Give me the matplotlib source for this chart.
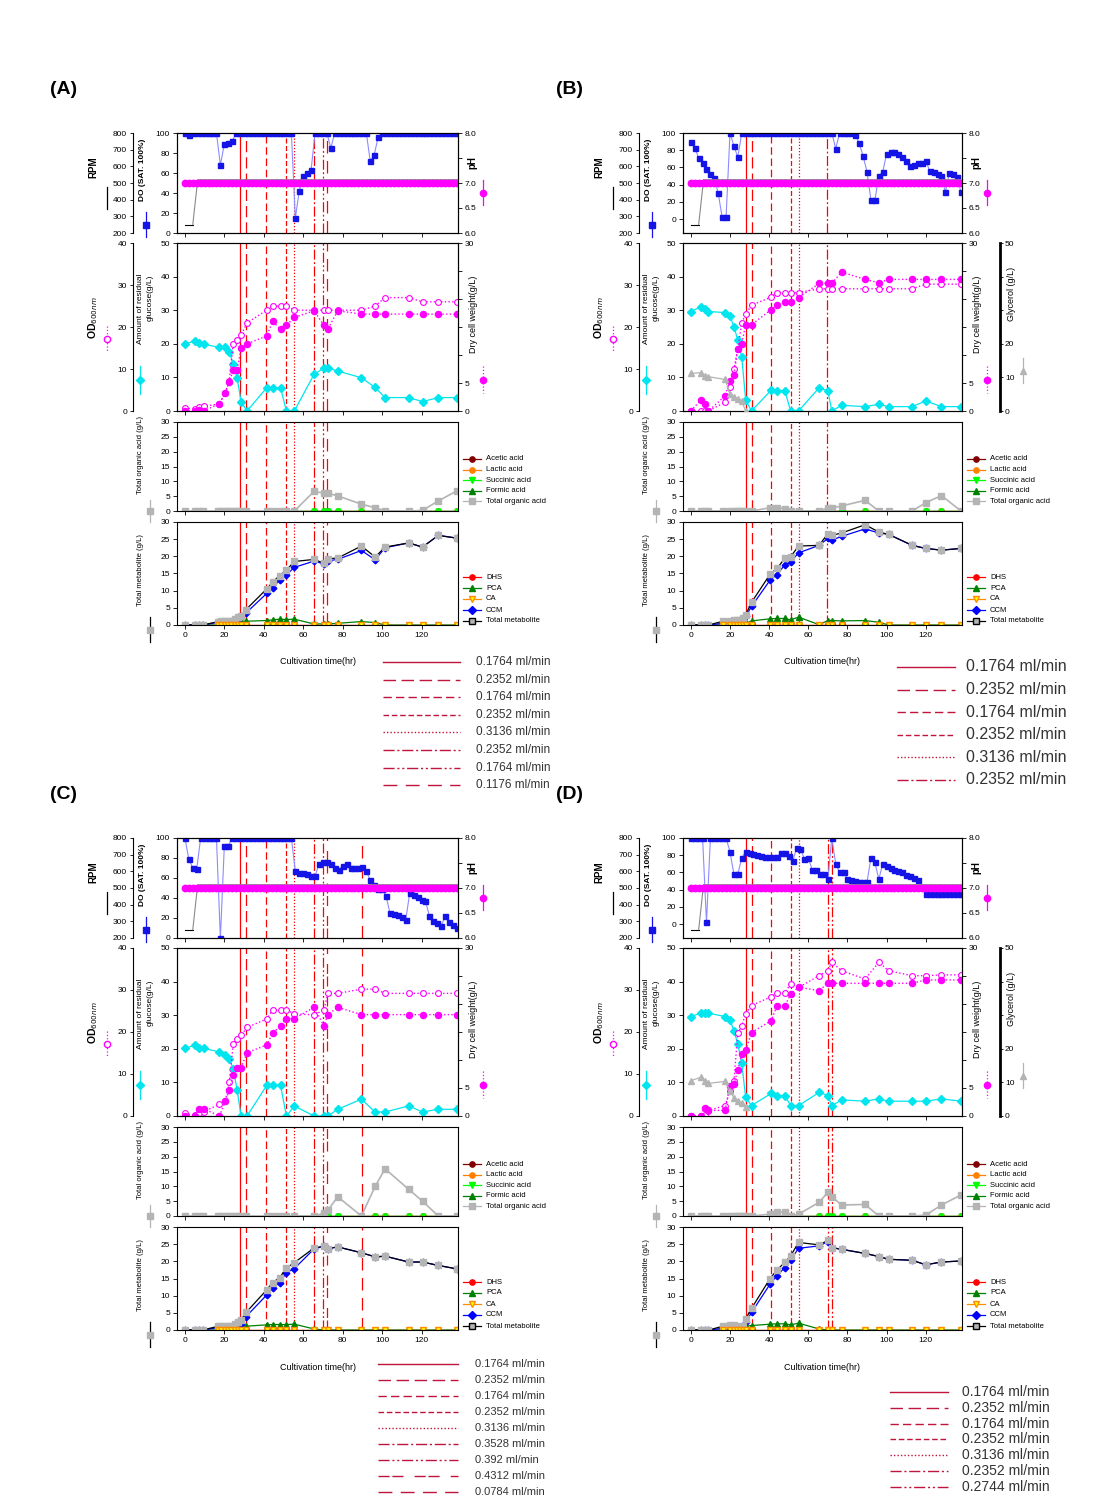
import matplotlib
matplotlib.use("Agg")
import matplotlib.pyplot as plt
from matplotlib.lines import Line2D
from matplotlib.patches import Rectangle

plt.rcParams["font.family"] = ["Liberation Sans", "DejaVu Sans"]
plt.rcParams["axes.linewidth"] = 0.8

W, H = 1099, 1496

# ---------------------------------------------------------------- data
# on-line logger (DO, pH), read every 2 hr
do_t = list(range(0, 140, 2))

a_do = [100, 98, 100, 100, 100, 100, 100, 100, 100, 68,
        89, 90, 92, 100, 100, 100, 100, 100, 100, 100,
        100, 100, 100, 100, 100, 100, 100, 100, 15, 42,
        57, 60, 63, 100, 100, 100, 100, 85, 100, 100,
        100, 100, 100, 100, 100, 100, 100, 72, 78, 96,
        100, 100, 100, 100, 100, 100, 100, 100, 100, 100,
        100, 100, 100, 100, 100, 100, 100, 100, 100, 100]
b_do = [90, 83, 71, 65, 58, 53, 48, 30, 2, 2,
        100, 85, 72, 100, 100, 100, 100, 100, 100, 100,
        100, 100, 100, 100, 100, 100, 100, 100, 100, 100,
        100, 100, 100, 100, 100, 100, 100, 82, 100, 100,
        100, 100, 98, 88, 73, 55, 22, 22, 50, 55,
        76, 78, 78, 76, 72, 67, 62, 63, 65, 65,
        68, 56, 55, 52, 50, 31, 54, 52, 49, 31]
c_do = [100, 79, 70, 69, 100, 100, 100, 100, 100, 0,
        92, 92, 100, 100, 100, 100, 100, 100, 100, 100,
        100, 100, 100, 100, 100, 100, 100, 100, 67, 65,
        65, 64, 62, 62, 74, 76, 76, 74, 70, 68,
        72, 74, 70, 70, 70, 71, 67, 58, 53, 49,
        49, 42, 25, 24, 23, 21, 18, 45, 43, 41,
        38, 37, 22, 17, 15, 12, 22, 16, 13, 10]
d_do = [100, 100, 100, 100, 2, 100, 100, 100, 100, 100,
        84, 58, 58, 77, 84, 83, 81, 80, 79, 78,
        78, 78, 78, 83, 83, 79, 73, 88, 87, 76,
        77, 63, 63, 58, 58, 52, 100, 70, 60, 60,
        53, 51, 50, 49, 49, 49, 77, 72, 52, 70,
        67, 65, 63, 62, 60, 57, 56, 54, 51, 43,
        35, 35, 35, 35, 35, 35, 35, 35, 35, 35]
ph_vals = [7.0] * len(do_t)           # pH was held at 7.0 throughout
rpm_t = [0, 4, 6.5, 138]
rpm_v = [250, 250, 520, 520]

# off-line growth samples
ac_t = [0, 5, 7, 9.5, 17.5, 20.5, 22.5, 24.5, 26.5, 28.5, 31.5, 41.5, 44.5, 48.5,
        51.5, 55.5, 65.5, 70.5, 72.5, 77.5, 89.5, 96.5, 101.5, 113.5, 120.5, 128.5, 138]
bd_t = [0, 5, 7, 9, 17.5, 20, 22, 24, 26, 28, 31, 41, 44, 48,
        51, 55, 65.5, 70, 72, 77, 89, 96, 101, 113, 120, 128, 138]

a_od = [0.6, 0.5, 1.0, 1.1, 1.7, 4.4, 7.2, 16, 17, 18, 21, 24, 25, 25,
        25, 24, 24, 24, 24, 24, 24, 25, 27, 27, 26, 26, 26]
a_dcw = [0, 0, 0.1, 0, 1.3, 3.3, 5.2, 7.3, 7.3, 11.2, 12, 13.4, 16, 14.6,
         15.3, 16.7, 17.9, 15.3, 14.6, 17.9, 17.3, 17.3, 17.3, 17.3, 17.3, 17.3, 17.3]
a_glc = [19.9, 20.9, 20.1, 19.9, 18.9, 18.9, 17.7, 13.9, 9.7, 2.8, 0, 6.9, 6.9, 6.9,
         0, 0, 10.9, 12.8, 12.8, 11.9, 9.9, 7, 4, 4, 2.8, 4, 4]

b_od = [0, 0, 0, 0, 2.1, 5.6, 10, 14.7, 21, 23, 25.2, 27.1, 28.2, 28.2,
        28.2, 28.2, 29.1, 29.1, 29.1, 29.1, 29.1, 29.1, 29.1, 29.1, 30.2, 30.2, 30.2]
b_dcw = [0, 1.9, 1.3, 0, 2.7, 5.4, 6.5, 11.1, 12, 15.4, 15.4, 18.1, 18.9, 19.5,
         19.5, 20.2, 22.8, 22.8, 22.8, 24.8, 23.5, 22.9, 23.5, 23.5, 23.5, 23.5, 23.5]
b_glc = [29.6, 31, 30.3, 29.6, 29.3, 28.3, 25.1, 21.1, 16.1, 3.3, 0, 6.2, 6, 6,
         0, 0, 6.9, 6, 0, 1.7, 1.3, 2, 1.3, 1.3, 3, 1.3, 1.3]
b_gly = [11.2, 11.4, 10.4, 10.2, 9.4, 5, 4.3, 3.7, 3, 0]

c_od = [0.6, 0.2, 0.6, 1.0, 2.8, 3.5, 8, 17.1, 18.3, 19.2, 21.1, 23.1, 25.2, 25.3,
        25.3, 24.3, 24.1, 25.2, 29.2, 29.2, 30.2, 30.2, 29.2, 29.2, 29.2, 29.2, 29.2]
c_dcw = [0, 0, 1.3, 1.3, 0, 2.6, 4.6, 7.3, 8.6, 8.6, 11.3, 12.7, 14.8, 16.1,
         17.4, 17.4, 19.4, 16.1, 18.1, 19.4, 18.1, 18.1, 18.1, 18.1, 18.1, 18.1, 18.1]
c_glc = [20.1, 21.1, 20.1, 20.1, 19.1, 18.1, 17.1, 14.1, 7.7, 0, 0, 9.1, 9.1, 9.1,
         0, 3, 0, 0, 0, 2, 5, 1.2, 1.2, 3, 1.2, 2, 2]

d_od = [0, 0, 0.3, 1.3, 2.5, 6, 8.4, 19.7, 21.4, 24.4, 26.3, 28.4, 29.4, 29.4,
        31.4, 30.6, 33.4, 34.6, 36.6, 34.6, 32.6, 36.6, 34.6, 33.4, 33.4, 33.6, 33.6]
d_dcw = [0, 0, 1.5, 1, 1, 5.4, 5.7, 8.2, 11.1, 11.7, 14.9, 17, 19.7, 19.7,
         21.7, 23, 22.4, 23.7, 23.7, 23.7, 23.7, 23.7, 23.7, 23.7, 24.3, 24.3, 24.3]
d_glc = [29.6, 30.6, 30.6, 30.6, 29.6, 28.6, 25.4, 21.4, 15.7, 5.6, 3.1, 6.7, 6.1, 6.1,
         3.1, 3.1, 7, 6.1, 3.1, 4.8, 4.4, 5.1, 4.4, 4.4, 4.4, 5.1, 4.4]
d_gly = [10.5, 11.5, 10.5, 9.7, 10.3, 7.5, 5.4, 4.6, 3.8, 2.8]

# HPLC samples (organic acids, metabolites)
ac_mt = [0, 5, 7, 9, 17, 18.5, 20.5, 22, 23.5, 25.5, 27, 28.5, 31, 41.5, 44.5,
         48, 51.5, 55.5, 65.5, 70.5, 72.5, 77.5, 89.5, 96.5, 101.5, 113.5, 120.5, 128.5, 138]
bd_mt = [0, 5, 7, 9, 16.5, 20, 22, 23.5, 25, 26.5, 28, 31, 40.5, 44,
         48, 51, 55, 65.5, 70, 72, 77, 89, 96, 101, 113, 120, 128, 138]

a_toa = [0, 0, 0, 0, 0, 0, 0, 0, 0, 0, 0, 0, 0, 0, 0, 0, 0, 0,
         6.6, 6.0, 6.0, 5.1, 2.3, 1.1, 0, 0, 0.2, 3.4, 6.8]
a_tm = [0, 0, 0, 0, 1.0, 1.1, 1.1, 1.1, 1.3, 1.8, 2.4, 2.6, 4.5, 10.5, 12.5,
        14.4, 16, 18.5, 19.1, 18, 19.3, 19.5, 23, 19.8, 22.7, 23.9, 22.7, 26.1, 25.3]
a_ccm = [0, 0, 0, 0, 0.8, 0.8, 0.8, 0.8, 1.0, 1.3, 1.8, 2.5, 3.5, 9.2, 10.8,
         13.1, 14.6, 16.8, 18.6, 17.8, 18.7, 19.1, 21.7, 19.0, 22.5, 23.9, 22.7, 26.1, 25.3]
a_pca = [0, 0, 0, 0, 0, 0, 0, 0.3, 0.5, 0.8, 1.0, 1.1, 1.1, 1.3, 1.5,
         1.7, 1.6, 1.7, 0.3, 0.3, 0.3, 0.5, 1.0, 0.7, 0, 0, 0, 0, 0]

b_toa = [0, 0, 0, 0, 0, 0, 0, 0, 0, 0, 0, 0, 1.1, 1.1,
         0.8, 0, 0, 0, 1, 1, 1.7, 3.6, 0, 0, 0, 2.8, 5.2, 0]
b_tm = [0, 0, 0, 0, 1.1, 1.3, 1.4, 1.4, 1.5, 2.0, 3.0, 6.6, 14.8, 16.5,
        19.4, 19.9, 23, 23.2, 26.6, 26.1, 26.8, 29.2, 27.1, 26.4, 23.2, 22.3, 21.8, 22.3]
b_ccm = [0, 0, 0, 0, 0.5, 0.6, 0.7, 0.8, 1.0, 1.5, 2.5, 5.4, 13.1, 14.7,
         17.5, 18.4, 21, 23.2, 25.2, 24.7, 25.8, 28, 26.8, 26.4, 23.2, 22.3, 21.8, 22.3]
b_pca = [0, 0, 0, 0, 0, 0, 0, 0, 0, 0, 0.5, 1.2, 1.8, 1.9,
         1.9, 1.5, 2.3, 0.1, 1.3, 1.3, 1.2, 1.3, 0.8, 0, 0, 0, 0, 0]

c_toa = [0, 0, 0, 0, 0, 0, 0, 0, 0, 0, 0, 0, 0, 0, 0, 0, 0, 0, 0,
         0.9, 1.9, 6.5, 0, 10, 15.9, 9, 5, 0, 0]
c_tm = [0, 0, 0, 0, 1.1, 1.3, 1.3, 1.3, 1.3, 1.7, 2.4, 3.0, 5.1, 11.7, 13.8,
        15.2, 18.1, 19.6, 23.9, 24.4, 23.7, 24.2, 22.5, 21.3, 21.5, 19.8, 19.8, 18.8, 17.8]
c_ccm = [0, 0, 0, 0, 0.7, 0.8, 0.8, 0.8, 0.9, 1.3, 1.5, 1.7, 3.9, 10.2, 12.2,
         13.8, 16.7, 17.9, 23.6, 24.4, 23.7, 24.2, 22.5, 21.3, 21.5, 19.8, 19.8, 18.8, 17.8]
c_pca = [0, 0, 0, 0, 0, 0, 0, 0.3, 0.5, 0.8, 1.0, 1.1, 1.1, 1.5, 1.6,
         1.6, 1.6, 1.7, 0.3, 0, 0, 0, 0, 0, 0, 0, 0, 0, 0]

d_toa = [0, 0, 0, 0, 0, 0, 0, 0, 0, 0, 0, 0, 0.6, 1.5,
         1.2, 0, 0.6, 4.6, 8, 6.5, 3.7, 3.9, 0, 0, 0, 0.3, 3.7, 7.1]
d_tm = [0, 0, 0, 0, 1.1, 1.5, 1.5, 1.1, 0.5, 1.3, 3.2, 6.3, 15, 17.5,
        19.7, 21.6, 25.5, 24.8, 26.1, 24, 23.5, 22.3, 21.4, 20.6, 20.3, 19, 19.8, 20.1]
d_ccm = [0, 0, 0, 0, 0.5, 0.6, 0.5, 0, 0, 0.4, 2.2, 5.1, 13.4, 15.8,
         18.2, 20.4, 23.8, 24.5, 25.7, 24, 23.5, 22.3, 21.4, 20.6, 20.3, 19, 19.8, 20.1]
d_pca = [0, 0, 0, 0, 0, 0, 0, 0, 0, 0, 1.1, 1.3, 1.7, 1.8,
         1.8, 1.5, 2.0, 0.3, 0, 0, 0, 0, 0, 0, 0, 0, 0, 0]

# feed-rate changes (hr) and the feed rate that starts there (ml/min)
a_feed_t = [28.1, 31.1, 41.3, 51.4, 55.3, 65.3, 70.2, 72.3]
a_feed = ["0.1764", "0.2352", "0.1764", "0.2352", "0.3136", "0.2352", "0.1764", "0.1176"]
b_feed_t = [28.1, 31.1, 40.8, 51.0, 55.1, 69.7]
b_feed = ["0.1764", "0.2352", "0.1764", "0.2352", "0.3136", "0.2352"]
c_feed_t = [28.1, 31.1, 41.3, 51.4, 55.3, 65.3, 70.2, 72.3, 89.8]
c_feed = ["0.1764", "0.2352", "0.1764", "0.2352", "0.3136", "0.3528", "0.392", "0.4312", "0.0784"]
d_feed_t = [28.1, 31.1, 40.8, 51.0, 55.1, 69.9, 71.9]
d_feed = ["0.1764", "0.2352", "0.1764", "0.2352", "0.3136", "0.2352", "0.2744"]

# ---------------------------------------------------------------- styles
FEED_LS = ["-", (0, (9, 4)), (0, (6, 3)), (0, (4, 2)), (0, (1, 1.5)),
           (0, (8, 2, 1.5, 2)), (0, (8, 2, 1.5, 2, 1.5, 2)), (0, (10, 6)),
           (0, (8, 2, 8, 8))]
BLUE, LBLUE, PINK, CYAN, GREY = "#1414e6", "#8c8cff", "#ff00ff", "#00e5ee", "#b4b4b4"
FS = 6


def fx(px):
    return px / W


def fy(py):
    return 1 - py / H


def new_ax(fig, L, R, t, b):
    ax = fig.add_axes([fx(L), fy(b), (R - L) / W, (b - t) / H])
    ax.set_xlim(-4, 138.5)
    ax.set_xticks(range(0, 140, 20))
    ax.tick_params(labelsize=FS, length=3, width=0.6, pad=2, labelbottom=False)
    return ax


def ftext(fig, x, y, s, **kw):
    kw.setdefault("fontsize", 6.5)
    kw.setdefault("rotation", 90)
    fig.text(fx(x), fy(y), s, ha="center", va="center", **kw)


def key(fig, x, y0, y1, color, ls="-", marker=None, mfc=None, mec=None, ms=4):
    fig.add_artist(Line2D([fx(x), fx(x)], [fy(y0), fy(y1)], color=color, ls=ls, lw=0.9))
    if marker:
        fig.add_artist(Line2D([fx(x)], [fy((y0 + y1) / 2)], marker=marker, ls="none",
                              mfc=mfc, mec=mec, ms=ms))


def side_legend(fig, x, y0, dy, entries):
    for i, (lab, col, mk, mfc) in enumerate(entries):
        y = y0 + i * dy
        fig.add_artist(Line2D([fx(x), fx(x + 18)], [fy(y), fy(y)], color=col, lw=0.9))
        fig.add_artist(Line2D([fx(x + 9)], [fy(y)], marker=mk, ls="none", mfc=mfc,
                              mec=col if mfc != "#ffff00" else "#ff8c00", ms=3.8))
        fig.text(fx(x + 23), fy(y), lab, fontsize=5.5, va="center")


def feed_legend(fig, box, x0, x1, xt, y0, dy, labels, styles, fs):
    fig.add_artist(Rectangle((fx(box[0]), fy(box[3])), (box[2] - box[0]) / W,
                             (box[3] - box[1]) / H, transform=fig.transFigure,
                             facecolor="white", edgecolor="none", zorder=5))
    for i, (lab, st) in enumerate(zip(labels, styles)):
        y = y0 + i * dy
        fig.add_artist(Line2D([fx(x0), fx(x1)], [fy(y), fy(y)], color="#c0143c",
                              lw=1.0, ls=FEED_LS[st], zorder=6))
        fig.text(fx(xt), fy(y), lab + " ml/min", fontsize=fs, va="center",
                 color="#333333", zorder=6)


def draw_panel(fig, L, R, top, p):
    T1, T2, T3, T4 = top, top + 110, top + 289, top + 389
    rows = [(T1, T1 + 100), (T2, T2 + 168), (T3, T3 + 89), (T4, T4 + 103)]
    axes = [new_ax(fig, L, R, t, b) for t, b in rows]
    ax1, ax2, ax3, ax4 = axes
    for ax in axes:
        for t, st in zip(p["feed_t"], p["feed_ls"]):
            ax.axvline(t, color="red", lw=0.9, ls=FEED_LS[st], zorder=1)

    # --- DO / RPM / pH
    ax1.plot(do_t, p["do"], color=LBLUE, lw=0.8, marker="s", ms=3.6,
             mfc=BLUE, mec=BLUE, zorder=3)
    ax1.set_ylim(p["do_lim"], 100)
    ax1.set_yticks(range(0, 101, 20))
    rpm = ax1.twinx()
    rpm.yaxis.tick_left()
    for s in ["top", "right", "bottom"]:
        rpm.spines[s].set_visible(False)
    rpm.spines["left"].set_position(("outward", 32))
    rpm.set_ylim(200, 800)
    rpm.set_yticks(range(200, 801, 100))
    rpm.tick_params(labelsize=FS, length=2, width=0.6, pad=2)
    rpm.plot(rpm_t[:2], rpm_v[:2], color="black", lw=0.8)
    rpm.plot(rpm_t[1:], rpm_v[1:], color="#8a8a8a", lw=0.8)
    ph = ax1.twinx()
    ph.set_ylim(6.0, 8.0)
    ph.set_yticks([6.0, 6.5, 7.0, 7.5, 8.0])
    ph.set_yticklabels(["6.0", "6.5", "7.0", "", "8.0"])
    ph.tick_params(labelsize=FS, length=3, width=0.6, pad=2)
    ph.plot(do_t, ph_vals, ls="none", marker="o", ms=4.6, mfc=PINK, mec=PINK)

    # --- growth
    ax2.plot(p["gt"], p["glc"], color=CYAN, lw=0.9, marker="D", ms=3.6,
             mfc=CYAN, mec=CYAN, zorder=3)
    ax2.set_ylim(0, 50)
    ax2.set_yticks(range(0, 51, 10))
    od = ax2.twinx()
    od.yaxis.tick_left()
    for s in ["top", "right", "bottom"]:
        od.spines[s].set_visible(False)
    od.spines["left"].set_position(("outward", 32))
    od.set_ylim(0, 40)
    od.set_yticks(range(0, 41, 10))
    od.tick_params(labelsize=FS, length=2, width=0.6, pad=2)
    od.plot(p["gt"], p["od"], color=PINK, lw=1.0, ls=":", marker="o", ms=4.2,
            mfc="white", mec=PINK, mew=0.8)
    dcw = ax2.twinx()
    dcw.set_ylim(0, 30)
    dcw.set_yticks(range(0, 31, 5))
    dcw.set_yticklabels(["0", "5", "", "", "", "", "30"])
    dcw.tick_params(labelsize=FS, length=3, width=0.6, pad=2)
    dcw.plot(p["gt"], p["dcw"], color=PINK, lw=1.0, ls=":", marker="o", ms=4.4,
             mfc=PINK, mec=PINK)
    if p["gly"] is not None:
        gly = ax2.twinx()
        for s in ["top", "left", "bottom"]:
            gly.spines[s].set_visible(False)
        gly.spines["right"].set_position(("outward", 27))
        gly.spines["right"].set_linewidth(2)
        gly.set_ylim(0, 50)
        gly.set_yticks(range(0, 51, 10))
        gly.set_yticklabels(["0", "10", "20", "", "", "50"])
        gly.tick_params(labelsize=FS, length=2, width=0.6, pad=2)
        gly.plot(p["gt"][:len(p["gly"])], p["gly"], color=GREY, lw=0.9,
                 marker="^", ms=4, mfc=GREY, mec=GREY)

    # --- organic acids
    mt, k = p["mt"], p["acid_from"]
    zeros = [0.0] * len(mt)
    ax3.plot(mt[k:], zeros[k:], color="#800000", marker="o", ms=3.5, lw=0.9)
    ax3.plot(mt[k:], zeros[k:], color="#ff8000", marker="o", ms=3.5, lw=0.9)
    ax3.plot(mt[k:], zeros[k:], color="#008000", marker="^", ms=3.5, lw=0.9)
    ax3.plot(mt[k:], zeros[k:], color="#00ff00", marker="v", ms=3.5, lw=0.9)
    ax3.plot(mt, p["toa"], color=GREY, lw=1.2, marker="s", ms=4, mfc=GREY, mec=GREY)
    ax3.set_ylim(0, 30)
    ax3.set_yticks(range(0, 31, 5))

    # --- metabolites
    ax4.plot(mt, zeros, color="red", marker="o", ms=3.5, lw=0.9)
    ax4.plot(mt, p["pca"], color="#008000", marker="^", ms=3.8, lw=0.9)
    ax4.plot(mt, p["ccm"], color="blue", marker="D", ms=3.4, lw=0.9)
    ax4.plot(mt, p["tm"], color="black", lw=0.9, marker="s", ms=4.2, mfc=GREY, mec=GREY)
    ax4.plot(mt[4:], zeros[4:], color="#ff8c00", marker="v", ms=3.8, lw=0.9,
             mfc="#ffff00", mec="#ff8c00")
    ax4.set_ylim(0, 30)
    ax4.set_yticks(range(0, 31, 5))
    ax4.tick_params(labelbottom=True)

    # --- axis titles with their symbol keys
    ftext(fig, L - 84, T1 + 34, "RPM", fontsize=7, weight="bold")
    key(fig, L - 70, T1 + 54, T1 + 76, "black")
    ftext(fig, L - 35, T1 + 37, "DO (SAT. 100%)", fontsize=6, weight="bold")
    key(fig, L - 31, T1 + 79, T1 + 104, BLUE, marker="s", mfc=BLUE, mec=BLUE, ms=4)
    ftext(fig, R + 14, T1 + 30, "pH", fontsize=7, weight="bold")
    key(fig, R + 25, T1 + 47, T1 + 72, PINK, marker="o", mfc=PINK, mec=PINK, ms=4.5)

    ftext(fig, L - 84, T2 + 75, r"OD$_{600nm}$", fontsize=7.5, weight="bold")
    key(fig, L - 70, T2 + 83, T2 + 109, PINK, ls=":", marker="o", mfc="white", mec=PINK, ms=4.5)
    ftext(fig, L - 37, T2 + 66, "Amount of residual", fontsize=6)
    ftext(fig, L - 27, T2 + 55, "glucose(g/L)", fontsize=6)
    key(fig, L - 37, T2 + 123, T2 + 151, CYAN, marker="D", mfc=CYAN, mec=CYAN, ms=4)
    ftext(fig, R + 16, T2 + 71, "Dry cell weight(g/L)")
    key(fig, R + 25, T2 + 123, T2 + 150, PINK, ls=":", marker="o", mfc=PINK, mec=PINK, ms=4.5)
    if p["gly"] is not None:
        ftext(fig, R + 50, T2 + 51, "Glycerol (g/L)")
        key(fig, R + 61, T2 + 115, T2 + 140, GREY, marker="^", mfc=GREY, mec=GREY, ms=4.5)

    ftext(fig, L - 37, T3 + 33, "Total organic acid (g/L)", fontsize=5.5)
    key(fig, L - 27, T3 + 78, T3 + 100, GREY, marker="s", mfc=GREY, mec=GREY, ms=4.5)
    side_legend(fig, R + 5, T3 + 37, 10.6, [
        ("Acetic acid", "#800000", "o", "#800000"),
        ("Lactic acid", "#ff8000", "o", "#ff8000"),
        ("Succinic acid", "#00ff00", "v", "#00ff00"),
        ("Formic acid", "#008000", "^", "#008000"),
        ("Total organic acid", GREY, "s", GREY)])

    ftext(fig, L - 37, T4 + 48, "Total metabolite (g/L)", fontsize=5.5)
    key(fig, L - 27, T4 + 95, T4 + 120, "black", marker="s", mfc=GREY, mec=GREY, ms=4.5)
    side_legend(fig, R + 5, T4 + 55, 11, [
        ("DHS", "red", "o", "red"),
        ("PCA", "#008000", "^", "#008000"),
        ("CA", "#ff8c00", "v", "#ffff00"),
        ("CCM", "blue", "D", "blue"),
        ("Total metabolite", "black", "s", GREY)])

    ftext(fig, (L + R) / 2, T4 + 140, "Cultivation time(hr)", rotation=0)


fig = plt.figure(figsize=(W / 100, H / 100), dpi=100)

panels = {
    "A": dict(do=a_do, do_lim=0, gt=ac_t, od=a_od, dcw=a_dcw, glc=a_glc, gly=None,
              mt=ac_mt, acid_from=17, toa=a_toa, tm=a_tm, ccm=a_ccm, pca=a_pca,
              feed_t=a_feed_t, feed_ls=[0, 1, 2, 3, 4, 5, 6, 7]),
    "B": dict(do=b_do, do_lim=-16, gt=bd_t, od=b_od, dcw=b_dcw, glc=b_glc, gly=b_gly,
              mt=bd_mt, acid_from=12, toa=b_toa, tm=b_tm, ccm=b_ccm, pca=b_pca,
              feed_t=b_feed_t, feed_ls=[0, 1, 2, 3, 4, 5]),
    "C": dict(do=c_do, do_lim=0, gt=ac_t, od=c_od, dcw=c_dcw, glc=c_glc, gly=None,
              mt=ac_mt, acid_from=17, toa=c_toa, tm=c_tm, ccm=c_ccm, pca=c_pca,
              feed_t=c_feed_t, feed_ls=[0, 1, 2, 3, 4, 5, 6, 8, 7]),
    "D": dict(do=d_do, do_lim=-16, gt=bd_t, od=d_od, dcw=d_dcw, glc=d_glc, gly=d_gly,
              mt=bd_mt, acid_from=12, toa=d_toa, tm=d_tm, ccm=d_ccm, pca=d_pca,
              feed_t=d_feed_t, feed_ls=[0, 1, 2, 3, 4, 5, 6]),
}
frames = {"A": (177, 458, 133), "B": (683, 962, 133),
          "C": (177, 458, 838), "D": (683, 962, 838)}
for name, (L, R, top) in frames.items():
    draw_panel(fig, L, R, top, panels[name])
    fig.text(fx(L - 127), fy(top - 43), "(%s)" % name, fontsize=14, weight="bold",
             va="center", zorder=8)

feed_legend(fig, (372, 649, 556, 795), 383, 460, 476, 662, 17.6, a_feed,
            panels["A"]["feed_ls"], 8.5)
feed_legend(fig, (885, 652, 1070, 792), 897, 955, 966, 667, 22.6, b_feed,
            panels["B"]["feed_ls"], 11.5)
feed_legend(fig, (370, 1353, 558, 1496), 378, 458, 475, 1364, 16, c_feed,
            panels["C"]["feed_ls"], 8)
feed_legend(fig, (880, 1383, 1070, 1496), 890, 948, 962, 1392, 15.8, d_feed,
            panels["D"]["feed_ls"], 10)

fig.savefig("out.png", dpi=100)
